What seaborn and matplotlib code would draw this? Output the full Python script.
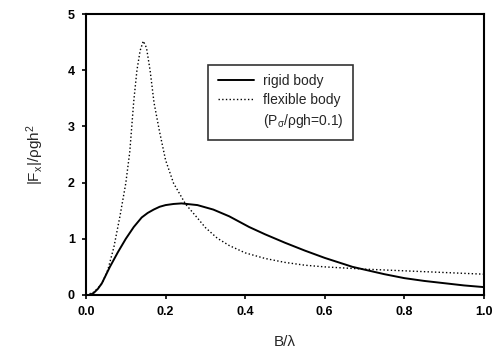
import matplotlib
matplotlib.use("Agg")
import matplotlib.pyplot as plt
import seaborn as sns
from matplotlib.lines import Line2D

# data
rigid_x = [0, 0.01, 0.02, 0.03, 0.04, 0.06, 0.08, 0.1, 0.12, 0.14, 0.155, 0.17, 0.185, 0.2,
           0.22, 0.24, 0.28, 0.32, 0.36, 0.41, 0.45, 0.5, 0.55, 0.6, 0.67, 0.75, 0.8, 0.85,
           0.9, 0.95, 1.0]
rigid_y = [0, 0.0, 0.04, 0.11, 0.21, 0.5, 0.76, 1.0, 1.21, 1.38, 1.46, 1.52, 1.57, 1.6,
           1.62, 1.63, 1.6, 1.52, 1.40, 1.21, 1.08, 0.93, 0.79, 0.66, 0.5, 0.37, 0.3, 0.25,
           0.21, 0.17, 0.14]

flex_x = [0, 0.02, 0.04, 0.055, 0.07, 0.085, 0.1, 0.11, 0.12, 0.128, 0.136, 0.144, 0.152,
          0.161, 0.171, 0.185, 0.2, 0.22, 0.25, 0.28, 0.3, 0.33, 0.36, 0.4, 0.45, 0.5,
          0.55, 0.6, 0.7, 0.8, 0.9, 1.0]
flex_y = [0, 0.05, 0.2, 0.45, 0.85, 1.39, 1.99, 2.55, 3.45, 4.0, 4.35, 4.52, 4.4,
          4.0, 3.42, 2.9, 2.4, 1.99, 1.62, 1.37, 1.2, 1.01, 0.88, 0.75, 0.65, 0.58,
          0.53, 0.5, 0.46, 0.43, 0.40, 0.37]

sns.set_style("ticks")
plt.rcParams['font.family'] = ['Liberation Sans', 'DejaVu Sans']
plt.rcParams['mathtext.fontset'] = 'custom'
plt.rcParams['mathtext.rm'] = 'Liberation Sans'
plt.rcParams['mathtext.it'] = 'Liberation Sans'

fig = plt.figure(figsize=(5.03, 3.52), dpi=100)
ax = fig.add_axes([0.171, 0.162, 0.791, 0.798])

sns.lineplot(x=rigid_x, y=rigid_y, ax=ax, color='black', linewidth=1.4, label='rigid body')
sns.lineplot(x=flex_x, y=flex_y, ax=ax, color='black', linewidth=1.0, linestyle=':',
             label='flexible body')

ax.set_xlim(0, 1.0)
ax.set_ylim(0, 5)
ax.set_xticks([0, 0.2, 0.4, 0.6, 0.8, 1.0])
ax.set_xticklabels(['0.0', '0.2', '0.4', '0.6', '0.8', '1.0'])
ax.set_yticks([0, 1, 2, 3, 4, 5])
ax.tick_params(direction='out', length=3, width=1.2, labelsize=9, colors='black', pad=5)
for lab in ax.get_xticklabels() + ax.get_yticklabels():
    lab.set_fontweight('bold')
for sp in ax.spines.values():
    sp.set_visible(True)
    sp.set_linewidth(1.5)
    sp.set_color('black')

ax.set_xlabel('B/λ', fontsize=11, labelpad=12)
ax.set_ylabel('|F$_x$|/ρgh$^2$', fontsize=11, labelpad=16)

handles, labels = ax.get_legend_handles_labels()
handles.append(Line2D([], [], linestyle='none'))
labels.append('(P$_σ$/ρgh=0.1)')
leg = ax.legend(handles, labels, loc='upper left', bbox_to_anchor=(0.29, 0.845),
                frameon=True, fancybox=False, edgecolor='black', fontsize=10,
                handlelength=2.6, handletextpad=0.6, borderpad=0.7, labelspacing=0.35)
leg.get_frame().set_linewidth(1.2)

fig.savefig('out.png', dpi=100)
